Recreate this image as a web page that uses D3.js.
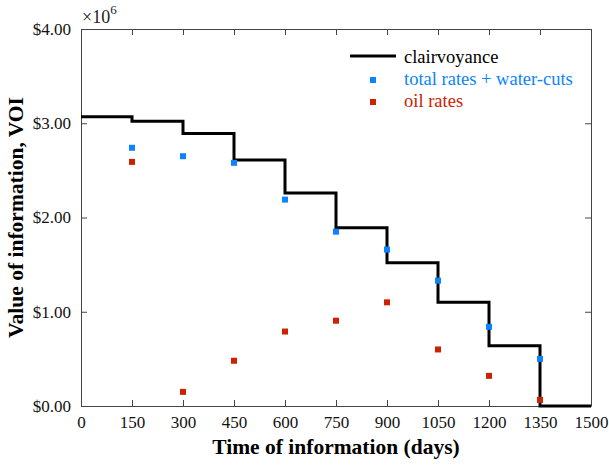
<!DOCTYPE html>
<html>
<head>
<meta charset="utf-8">
<script src="https://cdn.jsdelivr.net/npm/d3@7"></script>
<style>
body { margin: 0; background: #fff; }
</style>
</head>
<body>
<script>

var width = 609;
var height = 465;
var serif = "'Liberation Serif', 'Times New Roman', serif";

// time of information (days)
var days = [150, 300, 450, 600, 750, 900, 1050, 1200, 1350];
// clairvoyance step values, one per 150-day interval starting at 0
var stepStarts = [0, 150, 300, 450, 600, 750, 900, 1050, 1200, 1350, 1500];
var clairvoyance = [3.07, 3.02, 2.89, 2.61, 2.26, 1.89, 1.52, 1.10, 0.64, 0.00, 0.00];
var totalRates = [2.74, 2.65, 2.58, 2.19, 1.85, 1.66, 1.33, 0.84, 0.50];
var oilRates = [2.59, 0.15, 0.48, 0.79, 0.905, 1.10, 0.60, 0.32, 0.065];
var xTicks = [0, 150, 300, 450, 600, 750, 900, 1050, 1200, 1350, 1500];
var yTicks = [0, 1, 2, 3, 4];

var blue = "#0a84ff";
var red = "#cc2200";

var margin = {left: 81, right: 18, top: 29, bottom: 59};

var svg = d3.select("body")
    .append("svg")
    .attr("width", width)
    .attr("height", height)
    .style("font-family", serif);

var x = d3.scaleLinear().domain([0, 1500]).range([margin.left, width - margin.right]);
var y = d3.scaleLinear().domain([0, 4]).range([height - margin.bottom, margin.top]);

var axisColor = "#444";

// bottom and left axes with inward ticks
var xAxis = svg.append("g")
    .attr("transform", "translate(0," + y(0) + ")")
    .call(d3.axisBottom(x).tickValues(xTicks).tickSizeInner(-6).tickSizeOuter(0).tickPadding(10)
        .tickFormat(d3.format("d")));
var yAxis = svg.append("g")
    .attr("transform", "translate(" + x(0) + ",0)")
    .call(d3.axisLeft(y).tickValues(yTicks).tickSizeInner(-6).tickSizeOuter(0).tickPadding(10)
        .tickFormat(function(d) { return "$" + d.toFixed(2); }));
// top and right, ticks only
var xTop = svg.append("g")
    .attr("transform", "translate(0," + y(4) + ")")
    .call(d3.axisTop(x).tickValues(xTicks).tickSizeInner(-6).tickSizeOuter(0).tickFormat(""));
var yRight = svg.append("g")
    .attr("transform", "translate(" + x(1500) + ",0)")
    .call(d3.axisRight(y).tickValues(yTicks).tickSizeInner(-6).tickSizeOuter(0).tickFormat(""));

[xAxis, yAxis, xTop, yRight].forEach(function(a) {
    a.attr("font-family", serif).attr("font-size", 17);
    a.selectAll("path, line").attr("stroke", axisColor).attr("stroke-width", 1);
    a.selectAll("text").attr("fill", "#111");
});

// multiplier label
var mult = svg.append("text")
    .attr("x", x(0) + 1)
    .attr("y", 23)
    .attr("font-size", 18)
    .attr("fill", "#222");
mult.append("tspan").text("\u00d710");
mult.append("tspan").attr("dy", -9).attr("font-size", 13).text("6");

// axis titles
svg.append("text")
    .attr("x", (x(0) + x(1500)) / 2)
    .attr("y", 454)
    .attr("text-anchor", "middle")
    .attr("font-size", 21.5)
    .attr("font-weight", "bold")
    .text("Time of information (days)");

svg.append("text")
    .attr("transform", "translate(23," + ((y(0) + y(4)) / 2) + ") rotate(-90)")
    .attr("text-anchor", "middle")
    .attr("font-size", 21.5)
    .attr("font-weight", "bold")
    .text("Value of information, VOI");

// clairvoyance step line
var steps = stepStarts.map(function(d, i) { return {t: d, v: clairvoyance[i]}; });
var line = d3.line()
    .x(function(d) { return x(d.t); })
    .y(function(d) { return y(d.v); })
    .curve(d3.curveStepAfter);

svg.append("path")
    .datum(steps)
    .attr("d", line)
    .attr("fill", "none")
    .attr("stroke", "#000")
    .attr("stroke-width", 3);

var ms = 6;

svg.append("g").selectAll("rect")
    .data(days)
    .enter().append("rect")
    .attr("x", function(d) { return x(d) - ms / 2; })
    .attr("y", function(d, i) { return y(totalRates[i]) - ms / 2; })
    .attr("width", ms)
    .attr("height", ms)
    .attr("fill", blue);

svg.append("g").selectAll("rect")
    .data(days)
    .enter().append("rect")
    .attr("x", function(d) { return x(d) - ms / 2; })
    .attr("y", function(d, i) { return y(oilRates[i]) - ms / 2; })
    .attr("width", ms)
    .attr("height", ms)
    .attr("fill", red);

// legend
var legend = svg.append("g");
legend.append("line")
    .attr("x1", 350).attr("x2", 396)
    .attr("y1", 56).attr("y2", 56)
    .attr("stroke", "#000").attr("stroke-width", 3);
legend.append("rect")
    .attr("x", 370).attr("y", 77).attr("width", ms).attr("height", ms).attr("fill", blue);
legend.append("rect")
    .attr("x", 370).attr("y", 99).attr("width", ms).attr("height", ms).attr("fill", red);

var legendItems = [
    {label: "clairvoyance", color: "#000", y: 63},
    {label: "total rates + water-cuts", color: blue, y: 85},
    {label: "oil rates", color: red, y: 107}
];
legend.selectAll("text")
    .data(legendItems)
    .enter().append("text")
    .attr("x", 404)
    .attr("y", function(d) { return d.y; })
    .attr("fill", function(d) { return d.color; })
    .attr("font-size", 18.5)
    .text(function(d) { return d.label; });

</script>
</body>
</html>
